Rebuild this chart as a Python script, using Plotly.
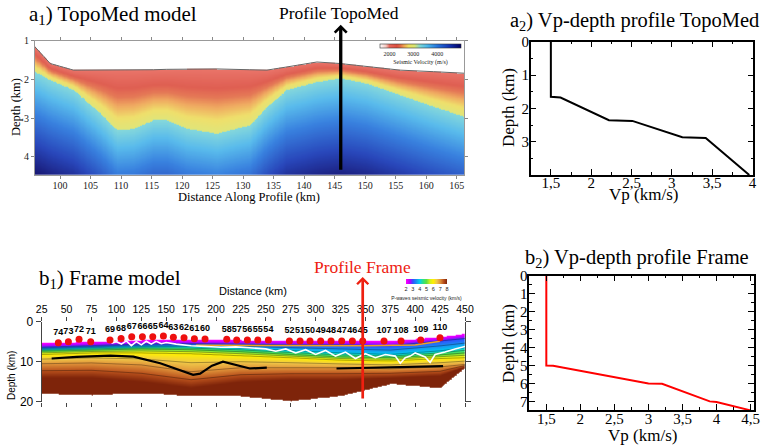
import numpy as np
import plotly.graph_objects as go

W, H = 772, 447
SERIF = "Liberation Serif, Times New Roman, serif"
SANS = "Liberation Sans, Arial, sans-serif"


def px(x):
    return x / W


def py(y):
    return 1 - y / H


# ---- a1) TopoMed model : boundaries read off the section ----
a1_km = [95.9, 98.4, 102.2, 106.6, 109.3, 112.0, 115.3, 117.5, 120.8, 125.7,
         131.1, 133.9, 137.1, 142.1, 145.9, 150.2, 155.7, 161.2, 166.2]
a1_seafloor = [1.16, 1.59, 1.76, 1.76, 1.76, 1.76, 1.75, 1.74, 1.73, 1.73,
               1.75, 1.76, 1.68, 1.55, 1.59, 1.66, 1.76, 1.80, 1.84]
a1_basement = [1.80, 2.02, 2.27, 2.88, 3.31, 3.27, 3.05, 3.05, 3.27, 3.39,
               3.18, 2.70, 2.27, 2.06, 1.97, 2.10, 2.40, 2.70, 2.96]
a1_profile_km = 146

# ---- a2) Vp-depth profile TopoMed ----
a2_vp = [1.5, 1.5, 1.62, 2.22, 2.51, 3.13, 3.42, 3.96]
a2_depth = [0, 1.65, 1.67, 2.35, 2.37, 2.86, 2.88, 3.99]

# ---- b1) Frame model : isovelocity depths (km) at nodes ----
b1_km = [25, 75, 125, 175, 225, 275, 325, 375, 425, 450]
b1_z2 = [5.3, 5.0, 4.6, 4.5, 4.6, 4.7, 4.7, 4.8, 3.8, 3.0]
b1_z3 = [6.4, 6.0, 5.6, 5.5, 5.6, 5.8, 5.8, 6.0, 4.8, 4.2]
b1_z4 = [6.9, 6.5, 6.2, 6.2, 6.6, 7.2, 7.8, 8.2, 7.3, 6.5]
b1_z5 = [7.4, 7.1, 6.8, 7.0, 7.5, 8.2, 8.8, 9.0, 8.3, 7.8]
b1_z6 = [8.2, 7.8, 7.8, 8.0, 8.5, 9.0, 9.6, 9.8, 9.2, 9.0]
b1_z7 = [10.5, 10.3, 10.8, 12.5, 11.5, 11.5, 11.5, 11.8, 11.3, 10.7]
b1_z8 = [14.0, 14.0, 15.0, 16.5, 15.0, 14.5, 14.5, 14.0, 13.5, 11.2]
b1_base = [18.0, 18.3, 17.8, 18.5, 18.6, 19.8, 18.5, 15.5, 16.5, 11.5]

moho_km = [35, 60, 94, 117, 144, 165, 177, 184, 196, 207, 220, 234, 251, None, 321, 428]
moho_z = [9.2, 8.8, 8.5, 8.75, 10.4, 12.3, 13.3, 13.0, 11.0, 10.0, 10.8, 11.7, 11.5, None, 11.7, 11.1]

white_km = [95, 100, 105, 110, 115, 120, 125, 130, 135, 140, 145, 150, 160, 175, 190, 205,
            220, 235, 250, 260, 270, 280, 290, 300, 310, 320, 330, 340, 350, 360, 370, 380,
            385, 390, 395, 400, 410, 415, 420, 430, 440, 450]
white_z = [5.4, 5.0, 5.6, 4.8, 6.0, 5.0, 5.8, 4.9, 5.6, 4.9, 5.5, 5.2, 5.6, 6.0, 6.2, 6.4,
           6.3, 6.6, 6.8, 7.4, 6.8, 7.8, 7.0, 8.2, 7.2, 8.6, 7.6, 9.2, 8.0, 9.0, 8.2, 8.6,
           10.4, 9.0, 8.6, 7.8, 8.8, 10.2, 8.2, 7.6, 6.8, 6.2]

orange_km = [180, 250, 300, 350, 400, 425]
orange_z = [5.9, 6.0, 5.9, 6.0, 5.8, 4.9]

obs_ids = ["74", "73", "72", "71", "69", "68", "67", "66", "65", "64", "63", "62", "61", "60",
           "58", "57", "56", "55", "54", "52", "51", "50", "49", "48", "47", "46", "45",
           "107", "108", "109", "110"]
obs_km = [41.7, 51.8, 62.5, 74.2, 93.6, 104.7, 115.4, 126.1, 136.5, 147.2, 157.2, 167.9,
          178.3, 189.0, 210.8, 220.8, 231.5, 241.9, 252.6, 273.7, 284.4, 294.4, 305.1,
          315.5, 326.2, 336.9, 347.3, 368.7, 385.8, 405.5, 424.9]
obs_z = [5.25, 5.0, 4.4, 5.0, 4.6, 4.2, 3.75, 3.75, 3.75, 3.6, 3.9, 4.0, 4.25, 4.3,
         4.4, 4.6, 4.6, 4.6, 4.6, 4.8, 4.8, 4.8, 4.8, 4.8, 4.8, 4.8, 4.8, 4.8, 4.8, 4.6, 4.0]
b1_profile_km = 347.3

# ---- b2) Vp-depth profile Frame ----
b2_vp = [1.5, 1.5, 1.6, 3.0, 3.2, 3.9, 4.0, 4.5]
b2_depth = [0, 5.0, 5.02, 6.0, 6.02, 7.0, 7.03, 7.5]

# ---------- build a1 velocity grid from the boundaries ----------
gx1 = np.arange(95.9, 166.25, 0.2)
gd1 = np.arange(1.0, 4.48, 0.01)
sea = np.interp(gx1, a1_km, a1_seafloor)
bas = np.interp(gx1, a1_km, a1_basement)
D, S = np.meshgrid(gd1, sea)
_, B = np.meshgrid(gd1, bas)
v1 = np.where(D < B, 2000 + 1000 * (D - S) / (B - S), 3300 + 650 * (D - B))
v1 = np.where(D < S, np.nan, np.minimum(v1, 5000)).T

# ---------- build b1 velocity grid ----------
gx3 = np.arange(25, 450.5, 1.0)
gz3 = np.arange(0, 20.05, 0.1)
layers = [b1_z2, b1_z3, b1_z4, b1_z5, b1_z6, b1_z7, b1_z8]
vels = [2, 3, 4, 5, 6, 7, 8]
full = np.zeros((len(gz3), len(gx3)))
v3 = np.zeros_like(full)
for j, xx in enumerate(gx3):
    nodes = [np.interp(xx, b1_km, L) for L in layers]
    base = np.interp(xx, b1_km, b1_base)
    col = np.interp(gz3, nodes, vels)
    col = np.where(gz3 < nodes[0], 1.5, col)
    col = np.where(gz3 > base, 8.5, col)
    full[:, j] = col
    v3[:, j] = np.where((gz3 < nodes[0]) | (gz3 > base), np.nan, col)

# colour stops given as (velocity, colour)
a1_stops = [(1600, "#ffffff"), (1850, "#f5c8c0"), (2000, "#e8665a"), (2300, "#dc4e40"),
            (2450, "#e26a44"), (2600, "#eea050"), (2800, "#eedc5c"), (3050, "#d8e470"),
            (3300, "#78d4d8"), (3600, "#48b4ea"), (4000, "#2474dc"), (4500, "#1234b4"),
            (5000, "#000066")]
a1_scale = [[(v - 1600) / 3400, c] for v, c in a1_stops]
b1_scale = [[0, "#ff00ff"], [0.1, "#b000ff"], [0.167, "#3050ff"], [0.25, "#1890f0"],
            [0.333, "#00d0f0"], [0.42, "#30e080"], [0.5, "#60e040"], [0.583, "#d0f020"],
            [0.667, "#fff000"], [0.75, "#f0c848"], [0.833, "#e0943a"], [0.917, "#b8501c"],
            [1, "#7e240a"]]

fig = go.Figure()

fig.add_trace(go.Heatmap(
    x=gx1, y=gd1, z=v1, xaxis="x", yaxis="y", colorscale=a1_scale,
    zmin=1600, zmax=5000, zsmooth="best", opacity=0.9,
    colorbar=dict(orientation="h", x=px(420.5), xanchor="center", y=py(44), yanchor="top",
                  len=81, lenmode="pixels", thickness=4, outlinewidth=0.6, outlinecolor="#333",
                  tickvals=[2000, 3000, 4000], ticks="", xpad=0, ypad=0,
                  tickfont=dict(size=6, family=SERIF, color="#222"),
                  title=dict(text="Seismic Velocity (m/s)", side="bottom",
                             font=dict(size=6, family=SERIF, color="#222")))))
fig.add_trace(go.Scatter(x=a1_km, y=a1_seafloor, xaxis="x", yaxis="y", mode="lines",
                         line=dict(color="#666", width=1), hoverinfo="skip"))

fig.add_trace(go.Scatter(x=a2_vp, y=a2_depth, xaxis="x2", yaxis="y2", mode="lines",
                         line=dict(color="black", width=2)))

fig.add_trace(go.Heatmap(
    x=gx3, y=gz3, z=v3, xaxis="x3", yaxis="y3", colorscale=b1_scale,
    zmin=2, zmax=8, zsmooth="best",
    colorbar=dict(orientation="h", x=px(426.5), xanchor="center", y=py(279), yanchor="top",
                  len=41, lenmode="pixels", thickness=5, outlinewidth=0,
                  tickvals=vels, ticks="", xpad=0, ypad=0,
                  tickfont=dict(size=5.5, family=SANS, color="#222"),
                  title=dict(text="P-waves seismic velocity (km/s)", side="bottom",
                             font=dict(size=5, family=SANS, color="#222")))))
fig.add_trace(go.Contour(
    x=gx3, y=gz3, z=full, xaxis="x3", yaxis="y3", showscale=False,
    contours=dict(start=3, end=7.5, size=0.5, coloring="none"),
    line=dict(color="rgba(0,0,0,0.55)", width=0.6), hoverinfo="skip"))
fig.add_trace(go.Scatter(x=orange_km, y=orange_z, xaxis="x3", yaxis="y3", mode="lines",
                         line=dict(color="#f0a020", width=1.5)))
fig.add_trace(go.Scatter(x=white_km, y=white_z, xaxis="x3", yaxis="y3", mode="lines",
                         line=dict(color="white", width=1.6)))
fig.add_trace(go.Scatter(x=moho_km, y=moho_z, xaxis="x3", yaxis="y3", mode="lines",
                         line=dict(color="black", width=2.2)))
fig.add_trace(go.Scatter(x=obs_km, y=obs_z, xaxis="x3", yaxis="y3", mode="markers+text",
                         text=obs_ids, textposition="top center",
                         textfont=dict(size=9, family=SANS, color="black", weight="bold"),
                         marker=dict(color="#ee1010", size=7)))

fig.add_trace(go.Scatter(x=b2_vp, y=b2_depth, xaxis="x4", yaxis="y4", mode="lines",
                         line=dict(color="#ff0000", width=2)))

grace = dict(showline=True, linecolor="black", linewidth=1.5, mirror="allticks",
             ticks="inside", ticklen=6, tickcolor="black", showgrid=False, zeroline=False,
             automargin=False, tickfont=dict(size=15, family=SERIF, color="black"))

fig.update_layout(
    width=W, height=H, margin=dict(l=0, r=0, t=0, b=0, pad=0, autoexpand=False),
    paper_bgcolor="white", plot_bgcolor="white", showlegend=False,
    xaxis=dict(domain=[px(35), px(464)], range=[95.9, 166.2], anchor="y",
               tickvals=list(range(100, 166, 5)), ticks="outside", ticklen=3,
               tickcolor="#888", showline=True, linecolor="#999", mirror="allticks",
               showgrid=False, zeroline=False, automargin=False, ticklabelstandoff=-2,
               tickfont=dict(size=10, family=SERIF, color="#222")),
    yaxis=dict(domain=[py(175), py(40.7)], range=[4.47, 1], anchor="x",
               tickvals=[1, 2, 3, 4], ticks="outside", ticklen=3, tickcolor="#888",
               showline=True, linecolor="#999", mirror="allticks", showgrid=False,
               zeroline=False, automargin=False,
               tickfont=dict(size=10, family=SERIF, color="#222")),
    xaxis2=dict(grace, domain=[px(530.7), px(753.3)], range=[1.25, 4.01], anchor="y2",
                tickvals=[1.5, 2, 2.5, 3, 3.5, 4], ticklabelstandoff=-7,
                ticktext=["1,5", "2", "2,5", "3", "3,5", "4"],
                minor=dict(tickvals=[1.25, 1.75, 2.25, 2.75, 3.25, 3.75], ticks="inside",
                           ticklen=3, tickcolor="black")),
    yaxis2=dict(grace, domain=[py(175), py(41.7)], range=[3.99, 0], anchor="x2",
                tickvals=[0, 1, 2, 3], ticklabelstandoff=-3,
                minor=dict(tickvals=[0.5, 1.5, 2.5, 3.5], ticks="inside", ticklen=3,
                           tickcolor="black")),
    xaxis3=dict(domain=[px(41.7), px(465)], range=[25, 450], anchor="y3", side="top",
                tickvals=list(range(25, 451, 25)), ticks="outside", ticklen=4,
                tickcolor="#444", showline=False, mirror="ticks", showgrid=False,
                zeroline=False, automargin=False,
                tickfont=dict(size=10.5, family=SANS, color="black")),
    yaxis3=dict(domain=[py(401.7), py(321.7)], range=[20, 0], anchor="x3",
                tickvals=[0, 10, 20], ticks="outside", ticklen=5, tickcolor="#444",
                showline=True, linecolor="#444", linewidth=1, mirror="ticks",
                showgrid=False, zeroline=False, automargin=False,
                tickfont=dict(size=12, family=SANS, color="black")),
    xaxis4=dict(grace, domain=[px(529.3), px(754)], range=[1.25, 4.55], anchor="y4",
                tickvals=[1.5, 2, 2.5, 3, 3.5, 4, 4.5], ticklabelstandoff=-6,
                ticktext=["1,5", "2", "2,5", "3", "3,5", "4", "4,5"],
                minor=dict(tickvals=[1.25, 1.75, 2.25, 2.75, 3.25, 3.75, 4.25], ticks="inside",
                           ticklen=3, tickcolor="black")),
    yaxis4=dict(grace, domain=[py(410), py(275.7)], range=[7.48, 0], anchor="x4",
                tickvals=[0, 1, 2, 3, 4, 5, 6, 7], ticklabelstandoff=-3,
                minor=dict(tickvals=[0.5, 1.5, 2.5, 3.5, 4.5, 5.5, 6.5], ticks="inside",
                           ticklen=3, tickcolor="black")),
)


def label(text, x, y, size, family=SERIF, color="black", angle=0, xanchor="center"):
    fig.add_annotation(text=text, x=px(x), y=py(y), xref="paper", yref="paper",
                       showarrow=False, textangle=angle, xanchor=xanchor, yanchor="middle",
                       font=dict(size=size, family=family, color=color))


label("a<sub>1</sub>) TopoMed model", 27, 15, 21, xanchor="left")
label("Profile TopoMed", 339, 13, 17.5)
label("Depth (km)", 16, 107, 12.5, angle=-90)
label("Distance Along Profile (km)", 249, 197, 12.5)

label("a<sub>2</sub>) Vp-depth profile TopoMed", 508, 21, 20.5, xanchor="left")
label("Depth (km)", 508, 108, 17, angle=-90)
label("Vp (km/s)", 643, 194, 17)

label("b<sub>1</sub>) Frame model", 37, 279, 21, xanchor="left")
label("Profile Frame", 362, 267, 17.5, color="#ee2010")
label("Distance (km)", 253, 291, 11, family=SANS)
label("Depth (km)", 11, 376, 10, family=SANS, angle=-90)

label("b<sub>2</sub>) Vp-depth profile Frame", 523, 258, 20.5, xanchor="left")
label("Depth (km)", 508, 344, 17, angle=-90)
label("Vp (km/s)", 642, 435, 17)

# profile arrows
fig.add_annotation(x=a1_profile_km, y=0.59, xref="x", yref="y", ax=a1_profile_km, ay=4.37,
                   axref="x", ayref="y", text="", showarrow=True, arrowhead=4,
                   arrowsize=0.7, arrowwidth=3.3, arrowcolor="black")
fig.add_annotation(x=b1_profile_km, y=-11.2, xref="x3", yref="y3", ax=b1_profile_km, ay=19.6,
                   axref="x3", ayref="y3", text="", showarrow=True, arrowhead=4,
                   arrowsize=0.8, arrowwidth=2.7, arrowcolor="#ee2010")

# the page has a default 8 px body margin; drop it so the figure sits at the corner
fig.write_html("out.html", config={"displayModeBar": False},
               post_script="document.body.style.margin='0';document.body.style.overflow='hidden';")
